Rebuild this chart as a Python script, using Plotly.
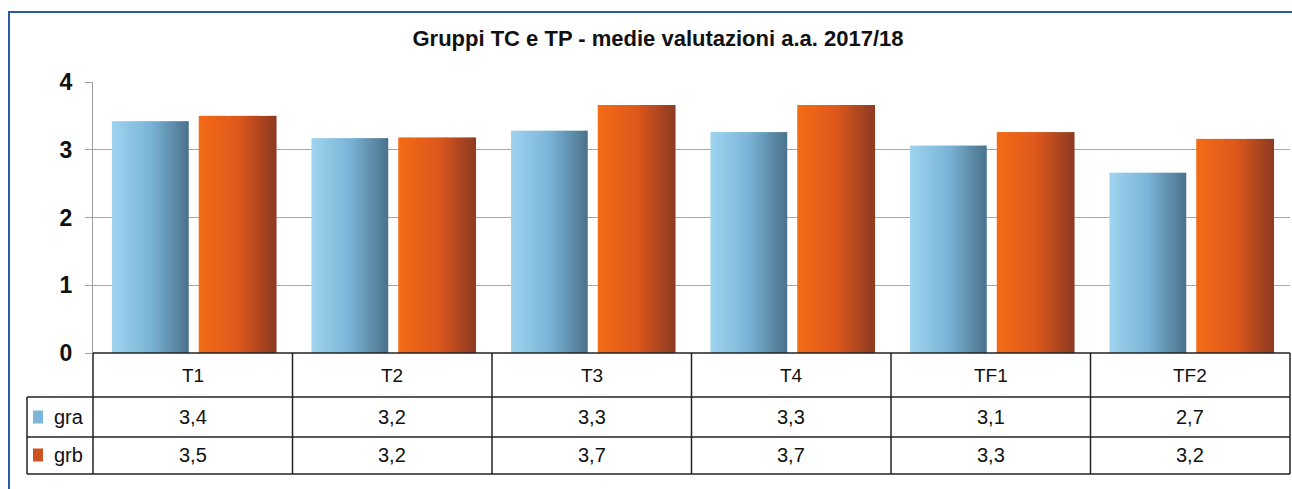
import plotly.graph_objects as go

categories = ["T1", "T2", "T3", "T4", "TF1", "TF2"]
series_names = ["gra", "grb"]
gra = [3.42, 3.17, 3.28, 3.26, 3.06, 2.66]
grb = [3.50, 3.18, 3.66, 3.66, 3.26, 3.16]
y_ticks = [0, 1, 2, 3, 4]
title_text = "Gruppi TC e TP - medie valutazioni a.a. 2017/18"

W, H = 1292, 489
L, T = 93, 82
R = W - 1290
B = H - 353
PW = W - L - R
PH = H - T - B
FONT = "Liberation Sans, Arial, sans-serif"

def px_x(px):
    return (px - L) / PW

def px_y(py):
    return (H - B - py) / PH

def lerp(c1, c2, t):
    return "rgb(%d,%d,%d)" % tuple(round(a + (b - a) * t) for a, b in zip(c1, c2))

gradients = {
    "gra": ((160, 212, 240), (122, 180, 214), (74, 114, 140)),
    "grb": ((244, 108, 22), (222, 88, 28), (140, 58, 34)),
}
geom = {"gra": (-0.405, 0.385), "grb": (0.03, 0.39)}

fig = go.Figure()
N = 40
for name, vals in (("gra", gra), ("grb", grb)):
    c0, cm, c1 = gradients[name]
    off, wid = geom[name]
    sw = wid / N
    for k in range(N):
        t = (k + 0.5) / N
        col = lerp(c0, cm, t * 2) if t < 0.5 else lerp(cm, c1, (t - 0.5) * 2)
        fig.add_trace(go.Bar(
            x=categories, y=vals, name=name, showlegend=False,
            offset=off + k * sw, width=sw * 1.6 if k < N - 1 else sw,
            marker=dict(color=col, line=dict(width=0)),
            hoverinfo="skip" if k else "x+y",
        ))

shapes = []
line = dict(color="#222222", width=1.5)
y_top, y_h, y_r1, y_r2 = px_y(353), px_y(397), px_y(437), px_y(474)
x_lab = px_x(27)
shapes.append(dict(type="line", xref="paper", yref="paper", x0=0, x1=1, y0=y_top, y1=y_top, line=line))
for yy in (y_h, y_r1, y_r2):
    shapes.append(dict(type="line", xref="paper", yref="paper", x0=x_lab, x1=1, y0=yy, y1=yy, line=line))
shapes.append(dict(type="line", xref="paper", yref="paper", x0=x_lab, x1=x_lab, y0=y_h, y1=y_r2, line=line))
for i in range(len(categories) + 1):
    xx = i / len(categories)
    shapes.append(dict(type="line", xref="paper", yref="paper", x0=xx, x1=xx, y0=y_top, y1=y_r2, line=line))
key_cols = {"gra": "rgb(125,182,216)", "grb": "rgb(205,80,30)"}
row_centers = {"gra": px_y(417), "grb": px_y(455)}
for name in series_names:
    yc = row_centers[name]
    shapes.append(dict(type="rect", xref="paper", yref="paper",
                       x0=px_x(33), x1=px_x(43), y0=yc - 6.5 / PH, y1=yc + 6.5 / PH,
                       fillcolor=key_cols[name], line=dict(width=0)))
shapes.append(dict(type="rect", xref="paper", yref="paper", layer="above",
                   x0=px_x(9), x1=px_x(1320), y0=px_y(520), y1=px_y(12),
                   line=dict(color="#2c5aa0", width=2)))

annotations = []
yc_head = px_y(375)
for i, c in enumerate(categories):
    xc = (i + 0.5) / len(categories)
    annotations.append(dict(xref="paper", yref="paper", x=xc, y=yc_head, text=c, showarrow=False,
                            xanchor="center", yanchor="middle",
                            font=dict(family=FONT, size=19, color="#111111")))
    for name, vals in (("gra", gra), ("grb", grb)):
        annotations.append(dict(xref="paper", yref="paper", x=xc, y=row_centers[name],
                                xanchor="center", yanchor="middle",
                                text=f"{vals[i]:.1f}".replace(".", ","), showarrow=False,
                                font=dict(family=FONT, size=20, color="#111111")))
for name in series_names:
    annotations.append(dict(xref="paper", yref="paper", x=px_x(52), y=row_centers[name],
                            xanchor="left", yanchor="middle", text=name, showarrow=False,
                            font=dict(family=FONT, size=20, color="#111111")))

fig.update_layout(
    width=W, height=H,
    margin=dict(l=L, r=R, t=T, b=B, autoexpand=False),
    paper_bgcolor="white", plot_bgcolor="white",
    barmode="overlay",
    title=dict(text=title_text, xref="container", yref="container",
               x=658 / W, y=1 - 38 / H,
               xanchor="center", yanchor="middle",
               font=dict(family=FONT, size=22, color="#111111", weight="bold")),
    xaxis=dict(range=[-0.5, len(categories) - 0.5], showticklabels=False, showgrid=False,
               zeroline=False, showline=False, ticks=""),
    yaxis=dict(range=[0, 4], tickvals=y_ticks, showgrid=True, gridcolor="#a8a8a8", gridwidth=1,
               zeroline=False, showline=True, linecolor="#a0a0a0", linewidth=1,
               ticks="outside", ticklen=7, tickcolor="#a0a0a0", ticklabelstandoff=8,
               tickfont=dict(family=FONT, size=23, color="#111111", weight="bold")),
    shapes=shapes, annotations=annotations, showlegend=False,
)

fig.write_html(
    "out.html",
    config={"displayModeBar": False},
    post_script="document.body.style.margin='0';document.body.style.overflow='hidden';",
)
